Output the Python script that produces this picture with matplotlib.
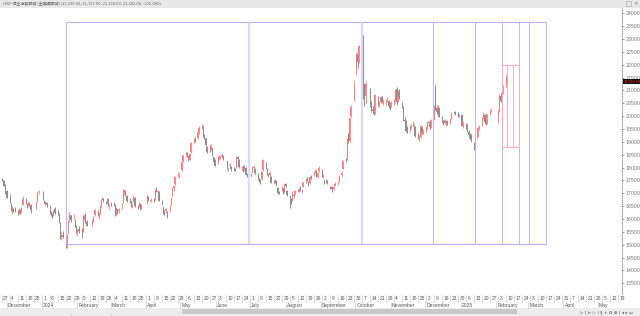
import matplotlib
matplotlib.use('Agg')
import matplotlib.pyplot as plt
import matplotlib.dates as mdates
from matplotlib.patches import Rectangle
import pandas as pd
import numpy as np

title = "HSIF 恒生指數期貨 (主連續期貨) (21,599.00, 21,727.00, 21,124.00, 21,342.00, -225.000)"
last_label = "21342.00"
last_value = 21342

holidays = ['2023-12-25', '2023-12-26', '2024-01-01', '2024-02-12', '2024-02-13', '2024-03-29',
            '2024-04-01', '2024-04-04', '2024-05-01', '2024-05-15', '2024-06-10', '2024-07-01',
            '2024-09-18', '2024-10-01', '2024-10-11', '2024-12-25', '2024-12-26', '2025-01-01',
            '2025-01-29', '2025-01-30', '2025-01-31']

opens = [
    17540, 17500, 17420, 17330, 17080, 16900, 16600, 16280, 16380, 16370,
    16310, 16230, 16330, 16300, 16550, 16780, 16580, 16560, 16500, 16560,
    16400, 16680, 17040, 17050, 16700, 16600, 16640,
    16500, 16250, 16180, 16140, 16400, 16250, 16200, 15830, 15280, 15390,
    15330, 14960, 15450, 15950, 16150, 16060, 15980, 15720, 15420, 15620,
    15530, 15510, 16030, 16200, 15900, 15800, 15930, 16150,
    16330, 16100, 16250, 16500, 16800, 16680, 16650, 16780, 16480, 16600,
    16600, 16550, 16200, 16400, 16300, 16400, 16650, 17050, 17050, 16900,
    16750, 16700, 16500, 16700, 16820, 16520, 16500, 16600, 16400,
    16620, 16860, 16700,
    16750, 16760, 17150, 17050, 17050, 16700, 16450, 16300, 16300, 16250,
    16300, 16550, 16900, 17200, 17350, 17700, 17750, 17900, 18250,
    18500, 18550, 18450, 18300, 18600, 19000, 19120, 19150, 19400,
    19580, 19600, 19250, 19150, 18800, 18650, 18800, 18750, 18400, 18300,
    18150, 18350, 18400, 18450, 18450, 18250, 17950, 18050, 18050,
    17950, 17950, 18000, 18400, 18300, 18000, 18050, 17900, 18000, 17750,
    17700, 17800, 18000, 17950,
    17750, 17550, 17500, 17550, 17900, 18150, 17950, 17750, 17700, 17650,
    17400, 17500, 17450, 17200, 17050, 17100, 17200, 17050, 17350, 17100,
    16900, 16750, 16750, 16950, 16950, 17100, 17100, 17250, 17080, 17250,
    17450, 17600, 17450, 17400, 17650, 17700, 17850, 17850, 17650, 17850,
    17900, 17650, 17500, 17450, 17450, 17250, 17200, 17250, 17150, 17300,
    17350, 17450, 17700, 17950, 18300, 18300, 19250, 19050, 20000,
    20650, 21650, 22400, 22100, 22800, 23050, 20900, 20800,
    21050, 20400, 20200, 20400, 20150, 20750, 20450, 20550, 20750, 20500,
    20550, 20650, 20600, 20450, 20400, 20550, 20600, 21050, 20600, 20950,
    20500, 20350, 19850, 19800, 19450, 19450, 19600, 19700, 19650, 19550,
    19250, 19100, 19200, 19550, 19400, 19450, 19550, 19750, 19700, 19600,
    19900, 21050, 20300, 20200, 20300, 19950, 19800, 19750, 19700, 19800,
    19750, 19900, 20150, 20100, 20000, 20050, 19650,
    19700, 19650, 19400, 19300, 19250, 18950, 18900, 19250, 19250, 19500,
    19650, 19950, 20050, 19800, 19750, 20100, 20200,
    19800, 20200, 20800, 20650, 20900, 21200, 21599]

highs = [
    17600, 17530, 17520, 17380, 17130, 16990, 16640, 16500, 16420, 16470,
    16360, 16420, 16380, 16480, 16880, 16800, 16640, 16700, 16650, 16600,
    16660, 17080, 17120, 17080, 16750, 16700, 16680,
    16530, 16330, 16220, 16360, 16460, 16340, 16220, 15850, 15500, 15530,
    15380, 15400, 15950, 16280, 16170, 16200, 15990, 15780, 15620, 15720,
    15640, 16150, 16190, 16250, 15950, 15970, 16100, 16400,
    16370, 16280, 16550, 16780, 16830, 16700, 16830, 16800, 16580, 16680,
    16680, 16570, 16480, 16410, 16420, 16620, 17180, 17150, 17120, 16950,
    16800, 16720, 16620, 16930, 16850, 16560, 16660, 16640, 16580,
    16960, 16900, 16800,
    16800, 17150, 17230, 17140, 17080, 16740, 16470, 16340, 16430, 16300,
    16540, 16860, 17230, 17320, 17680, 17820, 17800, 18250, 18500,
    18650, 18620, 18480, 18560, 19000, 19150, 19200, 19400, 19600,
    19710, 19610, 19300, 19160, 18850, 18880, 18900, 18760, 18420, 18350,
    18450, 18480, 18480, 18550, 18480, 18270, 18000, 18160, 18070,
    18020, 17980, 18460, 18450, 18320, 18080, 18100, 18100, 18020, 17800,
    17800, 18050, 18100, 17980,
    17780, 17600, 17550, 17880, 18320, 18200, 17980, 17800, 17850, 17680,
    17530, 17560, 17500, 17230, 17100, 17280, 17220, 17380, 17420, 17120,
    16950, 16800, 17080, 16980, 17120, 17170, 17200, 17300, 17150, 17450,
    17600, 17650, 17480, 17680, 17700, 17850, 17950, 17900, 17820, 18050,
    17950, 17750, 17520, 17550, 17500, 17280, 17300, 17280, 17300, 17450,
    17450, 17700, 17850, 18300, 18380, 19160, 19350, 19950, 20450,
    21420, 22500, 22450, 22770, 23350, 23150, 21300, 21350,
    21100, 20600, 20350, 20500, 20850, 20800, 20600, 20780, 20800, 20650,
    20650, 20750, 20620, 20550, 20600, 20650, 21050, 21150, 21000, 21050,
    20550, 20400, 19950, 19850, 19600, 19650, 19700, 19800, 19700, 19600,
    19350, 19250, 19650, 19600, 19500, 19600, 19800, 19800, 19720, 19900,
    20450, 21200, 20400, 20450, 20350, 20000, 19850, 19900, 19800, 19850,
    19900, 20150, 20200, 20150, 20100, 20100, 19800,
    19750, 19700, 19450, 19350, 19300, 19000, 19250, 19350, 19550, 19650,
    19950, 20150, 20080, 19850, 20100, 20250, 20300,
    20250, 20850, 20900, 20950, 21200, 21600, 21727]

lows = [
    17470, 17300, 17300, 16990, 16800, 16620, 16300, 16200, 16260, 16280,
    16150, 16200, 16200, 16250, 16530, 16590, 16420, 16500, 16450, 16240,
    16380, 16660, 16980, 16760, 16590, 16550, 16480,
    16200, 16120, 16050, 16120, 16200, 16150, 15830, 15240, 15200, 15250,
    14860, 14880, 15400, 15900, 15900, 16000, 15680, 15440, 15360, 15450,
    15270, 15500, 15970, 15850, 15720, 15720, 15880, 16100,
    16120, 16000, 16200, 16450, 16680, 16570, 16600, 16500, 16400, 16500,
    16500, 16100, 16150, 16200, 16250, 16380, 16640, 16950, 16900, 16680,
    16620, 16470, 16420, 16680, 16480, 16400, 16470, 16350, 16380,
    16600, 16700, 16650,
    16650, 16750, 17050, 16980, 16700, 16550, 16200, 16150, 16250, 16050,
    16270, 16530, 16880, 17100, 17330, 17650, 17600, 17880, 18220,
    18450, 18400, 18250, 18280, 18580, 18900, 19000, 19100, 19300,
    19520, 19200, 19100, 18850, 18550, 18600, 18700, 18450, 18200, 18050,
    18130, 18300, 18350, 18400, 18300, 17950, 17850, 18000, 17880,
    17880, 17850, 17980, 18300, 18000, 17900, 17820, 17880, 17700, 17650,
    17650, 17780, 17950, 17750,
    17500, 17450, 17380, 17530, 17880, 17950, 17700, 17650, 17650, 17400,
    17350, 17420, 17280, 16980, 16970, 17080, 16980, 17030, 17250, 16900,
    16440, 16600, 16720, 16800, 16920, 17050, 17050, 17080, 17000, 17230,
    17420, 17480, 17300, 17380, 17550, 17680, 17800, 17650, 17600, 17820,
    17620, 17600, 17350, 17400, 17380, 17150, 17150, 17050, 17120, 17280,
    17330, 17430, 17650, 17930, 18200, 18280, 18950, 19000, 19950,
    20600, 21600, 21880, 22050, 22700, 20650, 20400, 20500,
    20350, 20150, 20100, 20050, 20100, 20400, 20350, 20500, 20500, 20450,
    20400, 20550, 20300, 20250, 20350, 20450, 20550, 20450, 20550, 20650,
    20300, 19800, 19750, 19380, 19350, 19400, 19500, 19600, 19500, 19200,
    19100, 19050, 19150, 19300, 19300, 19400, 19500, 19650, 19500, 19550,
    19850, 20250, 20100, 20150, 19950, 19750, 19650, 19700, 19600, 19650,
    19700, 19880, 20050, 19950, 19950, 19600, 19550,
    19500, 19400, 19150, 19150, 19000, 18700, 18850, 19150, 19200, 19450,
    19600, 19900, 19750, 19650, 19700, 20050, 20150,
    19750, 20150, 20550, 20600, 20850, 21150, 21124]

closes = [
    17525, 17354, 17337, 17042, 16830, 16646, 16327, 16463, 16345, 16334,
    16201, 16374, 16228, 16402, 16792, 16629, 16505, 16613, 16622, 16341,
    16624, 17043, 17047, 16789, 16646, 16646, 16535,
    16224, 16190, 16097, 16302, 16244, 16216, 15866, 15277, 15391, 15309,
    14961, 15353, 15900, 16211, 15952, 16078, 15703, 15485, 15566, 15533,
    15510, 16082, 16136, 15878, 15746, 15944, 16081, 16340,
    16156, 16248, 16503, 16742, 16726, 16634, 16790, 16536, 16511, 16589,
    16596, 16162, 16438, 16230, 16353, 16588, 17093, 17082, 16962, 16721,
    16738, 16530, 16543, 16863, 16500, 16473, 16619, 16393, 16541,
    16931, 16725, 16724,
    16733, 17139, 17139, 17095, 16721, 16600, 16248, 16252, 16386, 16224,
    16511, 16828, 17201, 17285, 17651, 17747, 17763, 18207, 18476,
    18578, 18479, 18314, 18538, 18964, 19115, 19074, 19377, 19554,
    19636, 19221, 19195, 18869, 18609, 18828, 18822, 18477, 18231, 18080,
    18404, 18444, 18425, 18476, 18367, 17977, 17938, 18113, 17942,
    17937, 17916, 18431, 18336, 18028, 18027, 17845, 18072, 17717, 17719,
    17770, 17979, 18029, 17800,
    17525, 17524, 17472, 17833, 18294, 18015, 17728, 17739, 17778, 17418,
    17469, 17470, 17311, 17005, 17022, 17238, 17002, 17344, 17304, 16946,
    16698, 16648, 17031, 16892, 17091, 17112, 17175, 17114, 17110, 17430,
    17569, 17511, 17392, 17641, 17612, 17798, 17874, 17692, 17786, 17989,
    17651, 17651, 17457, 17444, 17444, 17196, 17234, 17108, 17241, 17369,
    17422, 17660, 17775, 18258, 18247, 19129, 19000, 19925, 20355,
    21134, 22444, 22114, 22737, 23100, 20927, 20637, 21252,
    20455, 20319, 20287, 20080, 20805, 20478, 20499, 20761, 20560, 20590,
    20600, 20701, 20380, 20317, 20506, 20568, 21006, 20538, 20953, 20729,
    20427, 19846, 19823, 19435, 19426, 19577, 19664, 19706, 19601, 19230,
    19151, 19159, 19603, 19366, 19424, 19550, 19746, 19742, 19560, 19866,
    20414, 20311, 20155, 20398, 19971, 19796, 19700, 19865, 19752, 19720,
    19883, 20099, 20090, 20041, 20060, 19623, 19760,
    19688, 19448, 19280, 19240, 19064, 18874, 19219, 19286, 19522, 19584,
    19926, 20107, 19778, 19701, 20066, 20198, 20225,
    20217, 20790, 20597, 20891, 21133, 21521, 21342]

# annotation lines
box_top = 23660
box_bottom = 15030
box_dates = ['2024-01-22', '2024-06-30', '2024-10-07', '2024-12-08', '2025-01-14',
             '2025-02-06', '2025-02-21', '2025-03-02', '2025-03-17']
wide_dates = ['2024-06-30', '2024-10-07']
pink_top = 21990
pink_bottom = 18800
pink_dates = ['2025-02-06', '2025-02-11', '2025-02-16', '2025-02-21']

y_ticks = list(range(13500, 24001, 500))
months = [('2023-12-01', 'December'), ('2024-01-01', '2024'), ('2024-02-01', 'February'),
          ('2024-03-01', 'March'), ('2024-04-01', 'April'), ('2024-05-01', 'May'),
          ('2024-06-01', 'June'), ('2024-07-01', 'July'), ('2024-08-01', 'August'),
          ('2024-09-01', 'September'), ('2024-10-01', 'October'), ('2024-11-01', 'November'),
          ('2024-12-01', 'December'), ('2025-01-01', '2025'), ('2025-02-01', 'February'),
          ('2025-03-01', 'March'), ('2025-04-01', 'April'), ('2025-05-01', 'May')]

# ---------------------------------------------------------------------------
W, H = 640, 316
fig = plt.figure(figsize=(W / 100, H / 100), dpi=100)
fig.patch.set_facecolor('white')

ax_left, ax_right, ax_top, ax_bot = 0, 622, 8, 294
ax = fig.add_axes([ax_left / W, 1 - ax_bot / H, (ax_right - ax_left) / W, (ax_bot - ax_top) / H])
ax.patch.set_alpha(0)

days = pd.bdate_range('2023-11-27', '2025-02-11')
days = days[~days.isin(pd.to_datetime(holidays))]
n = min(len(days), len(closes))
days = days[:n]
xs = mdates.date2num(days.to_pydatetime())
o = np.array(opens[:n]); h = np.array(highs[:n]); l = np.array(lows[:n]); c = np.array(closes[:n])

up = c >= o
wick_col = np.where(up, '#f03a3a', '#3a3a3a')
body_col = np.where(up, '#ff7a7a', '#8c8c8c')
ax.vlines(xs, l, h, colors=wick_col, linewidth=0.4, zorder=3)
ax.bar(xs, np.maximum(np.abs(c - o), 15), bottom=np.minimum(o, c), width=0.75,
       color=body_col, linewidth=0, zorder=3)

d0 = mdates.date2num(pd.Timestamp('2024-01-01')) - 42 / 1.1436
d1 = mdates.date2num(pd.Timestamp('2024-01-01')) + (622 - 42) / 1.1436
ax.set_xlim(d0, d1)
ax.set_ylim(13086, 24206)

# annotation lines
bd = mdates.date2num(pd.to_datetime(box_dates).to_pydatetime())
ax.hlines([box_top, box_bottom], bd[0], bd[-1], colors='#b4b4f4', linewidth=0.8, zorder=4)
for d, dn in zip(box_dates, bd):
    if d in wide_dates:
        ax.vlines(dn, box_bottom, box_top, colors='#d6d6fa', linewidth=1.6, zorder=4, alpha=0.9)
    else:
        ax.vlines(dn, box_bottom, box_top, colors='#b4b4f4', linewidth=0.8, zorder=4, alpha=0.9)
pdn = mdates.date2num(pd.to_datetime(pink_dates).to_pydatetime())
ax.hlines([pink_top, pink_bottom], pdn[0], pdn[-1], colors='#f6b0b8', linewidth=0.8, zorder=4)
ax.vlines(pdn, pink_bottom, pink_top, colors='#f6b0b8', linewidth=0.7, zorder=4)

# axes styling
for s in ['left', 'top', 'bottom']:
    ax.spines[s].set_visible(False)
ax.spines['right'].set_linestyle((0, (1, 1.5)))
ax.spines['right'].set_color('#888888')
ax.spines['right'].set_linewidth(0.6)
ax.set_xticks([])
ax.yaxis.tick_right()
ax.set_yticks(y_ticks)
ax.set_yticklabels([str(v) for v in y_ticks])
ax.tick_params(axis='y', direction='out', length=1.5, width=0.5, pad=1.2, labelsize=3.8,
               colors='#777777')
for t in ax.get_yticklabels():
    t.set_family('Liberation Sans')

# overlay in pixel coordinates
ov = fig.add_axes([0, 0, 1, 1], zorder=10)
ov.set_xlim(0, W)
ov.set_ylim(H, 0)
ov.axis('off')
ov.patch.set_alpha(0)


def xpix(datestr):
    dn = mdates.date2num(pd.Timestamp(datestr))
    return ax_left + (dn - d0) / (d1 - d0) * (ax_right - ax_left)


def ypix(v):
    return ax_top + (24206 - v) / (24206 - 13086) * (ax_bot - ax_top)


# title bar
ov.add_patch(Rectangle((0, 0), W, 7.5, color='#e8e8e8', lw=0))
ov.text(3, 3.9, title, fontsize=2.9, color='#666666', va='center', ha='left',
        family=['Noto Sans CJK TC', 'DejaVu Sans'])
ov.add_patch(Rectangle((626, 1.3), 4.5, 4.5, fill=False, ec='#999999', lw=0.4))
ov.text(636, 3.8, '×', fontsize=4, color='#777777', va='center', ha='center')

# last price label
ly = ypix(last_value)
ov.add_patch(Rectangle((622.8, ly - 2.8), 17.2, 5.6, color='#111111', lw=0))
ov.text(623.3, ly, last_label, fontsize=3.2, color='#ff2020', va='center', ha='left',
        family='Liberation Sans')

# date axis rows
mondays = pd.date_range('2023-11-27', '2025-05-19', freq='W-MON')
for m in mondays:
    xp = xpix(m)
    if xp < 0 or xp > 620:
        continue
    ov.plot([xp, xp], [295, 301.5], color='#bbbbbb', lw=0.4)
    ov.text(xp + 1.2, 298.6, str(m.day), fontsize=3.5, color='#555555', va='center', ha='left',
            family='Liberation Sans')
for ds, name in months:
    xp = xpix(ds)
    ov.plot([xp, xp], [302, 308], color='#bbbbbb', lw=0.4)
    ov.text(xp + 1.2, 305.2, name, fontsize=3.6, color='#555555', va='center', ha='left',
            family='Liberation Sans')
ov.plot([0, 622], [301.8, 301.8], color='#dddddd', lw=0.3)

# bottom scroll bar
ov.add_patch(Rectangle((0, 308.3), W, 7.7, color='#ededed', lw=0))
ov.add_patch(Rectangle((182, 309.2), 335, 4.6, color='#c9c9c9', lw=0))
for xm in [71, 111]:
    ov.plot([xm, xm], [313, 316], color='#bbbbbb', lw=0.4)
ov.text(580, 312.3, '▷ | ⊳ ▷ | ‖ + ⊖ ⊕ | ◂ ▸ ▭', fontsize=3.2, color='#555555',
        va='center', ha='left', family='DejaVu Sans')

fig.savefig('out.png', dpi=100, facecolor='white')
